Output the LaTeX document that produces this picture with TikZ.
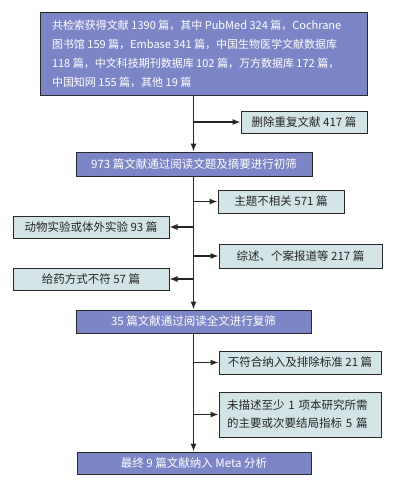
\documentclass[tikz,border=0pt]{standalone}
\usepackage{fontspec}
\setmainfont{Noto Sans CJK SC}
\usetikzlibrary{arrows.meta}
\definecolor{bluebox}{RGB}{124,134,198}
\definecolor{lightbox}{RGB}{210,228,230}
\definecolor{edge}{RGB}{40,40,40}
\tikzset{
  x=1pt,y=-1pt,
  every node/.style={font=\fontsize{11.5pt}{16pt}\selectfont, inner sep=0pt},
  mainbox/.style={draw=edge, line width=1pt, fill=bluebox, text=white, minimum height=#1, anchor=center},
  sidebox/.style={draw=edge, line width=1pt, fill=lightbox, text=black!85, minimum height=#1, anchor=center},
  arr/.style={line width=1.1pt, draw=black!85, -{Latex[length=8pt,width=6pt]}},
}
\begin{document}
\begin{tikzpicture}
\useasboundingbox (0,0) rectangle (402,485);
\node[mainbox=83pt, minimum width=327pt, text width=303pt, align=justify, inner xsep=12pt,
      font=\fontsize{11pt}{16.5pt}\selectfont] (top) at (203.5,53.5)
  {共检索获得文献 1390 篇，其中 PubMed 324 篇，Cochrane\\[2.5pt]图书馆 159 篇，Embase 341 篇，中国生物医学文献数据库\\[2.5pt]118 篇，中文科技期刊数据库 102 篇，万方数据库 172 篇，\\[2.5pt]中国知网 155 篇，其他 19 篇};
\node[sidebox=22pt, minimum width=126pt] (dup) at (304,122) {删除重复文献 417 篇};
\node[mainbox=24pt, minimum width=236pt] (s1) at (194,164) {973 篇文献通过阅读文题及摘要进行初筛};
\node[sidebox=23pt, minimum width=126pt] (r1) at (281,201.5) {主题不相关 571 篇};
\node[sidebox=22pt, minimum width=156pt] (l1) at (91,227) {动物实验或体外实验 93 篇};
\node[sidebox=24pt, minimum width=163pt] (r2) at (300.5,256) {综述、个案报道等 217 篇};
\node[sidebox=22pt, minimum width=156pt] (l2) at (91,279) {给药方式不符 57 篇};
\node[mainbox=23pt, minimum width=235pt] (s2) at (193.5,321.5) {35 篇文献通过阅读全文进行复筛};
\node[sidebox=23pt, minimum width=162pt] (r3) at (300,362.5) {不符合纳入及排除标准 21 篇};
\node[sidebox=45pt, minimum width=162pt, text width=146pt, align=left] (r4) at (300,414.5) {未描述至少 1 项本研究所需\\[2pt]的主要或次要结局指标 5 篇};
\node[mainbox=22pt, minimum width=234pt] (fin) at (194,463) {最终 9 篇文献纳入 Meta 分析};
\coordinate (c1) at (193.5,95);
\draw[arr] (c1) -- (c1 |- s1.north);
\draw[arr] (c1 |- dup.west) -- (dup.west);
\draw[arr] (c1 |- s1.south) -- (c1 |- s2.north);
\draw[arr] (c1 |- r1.west) -- (r1.west);
\draw[arr] (c1 |- l1.east) -- (l1.east);
\draw[arr] (c1 |- r2.west) -- (r2.west);
\draw[arr] (c1 |- l2.east) -- (l2.east);
\draw[arr] (c1 |- s2.south) -- (c1 |- fin.north);
\draw[arr] (c1 |- r3.west) -- (r3.west);
\draw[arr] (c1 |- r4.west) -- (r4.west);
\end{tikzpicture}
\end{document}
